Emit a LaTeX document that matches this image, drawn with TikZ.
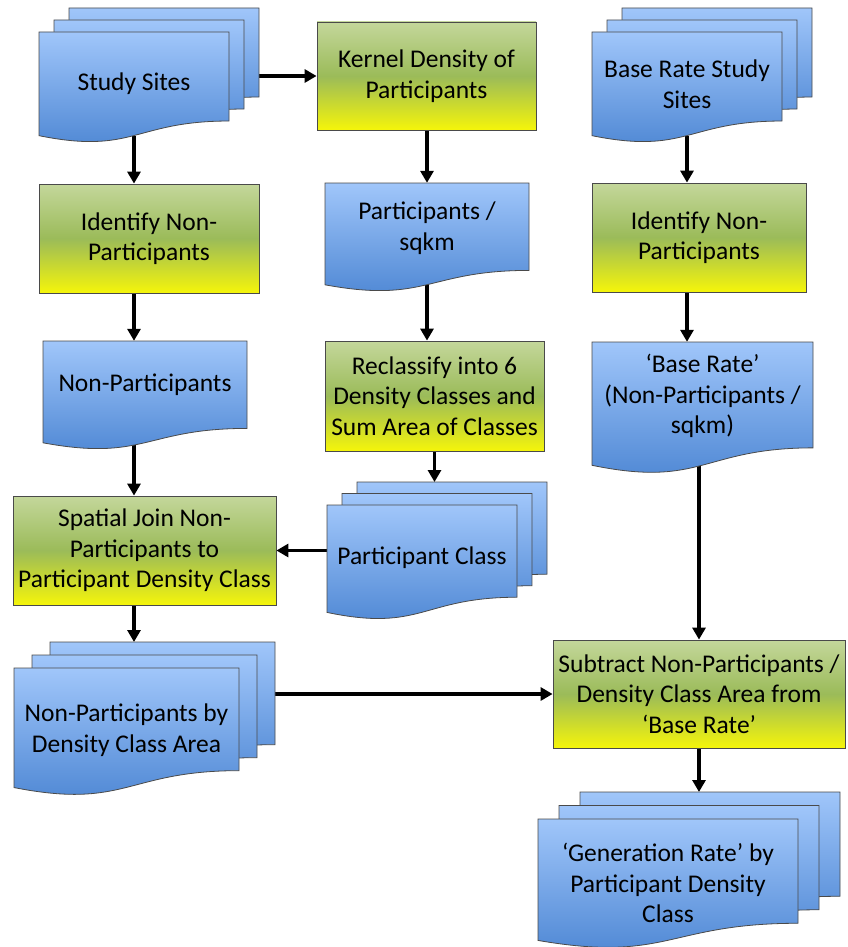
\documentclass[tikz,border=0pt]{standalone}
\usepackage{fontspec}
\setmainfont{Carlito}
\usetikzlibrary{arrows.meta}
\pgfdeclarelayer{bg}
\pgfsetlayers{bg,main}

\definecolor{procTop}{HTML}{C4D79B}
\definecolor{procMid}{HTML}{9BBB59}
\definecolor{procBot}{HTML}{F5F50A}
\definecolor{docTop}{HTML}{A0C6FA}
\definecolor{docBot}{HTML}{4A84D2}
\definecolor{edge}{HTML}{4A4A4A}

\newcommand{\flowfont}{\fontsize{25.5}{30.5}\selectfont}

\tikzset{
  proc/.style={draw=edge, line width=0.8pt, top color=procTop, bottom color=procBot, middle color=procMid, align=center, inner sep=0pt, font=\flowfont},
  docpage/.style={draw=edge, line width=0.8pt, top color=docTop, bottom color=docBot},
  doctxt/.style={align=center, inner sep=0pt, font=\flowfont},
  arr/.style={line width=3.4pt, -{Triangle[width=13pt,length=12pt]}},
}

% one page: left, top, width, height
\newcommand{\docpage}[4]{%
  \pgfmathsetmacro{\dpR}{#1+#3}
  \pgfmathsetmacro{\dpM}{#1+0.5*#3}
  \pgfmathsetmacro{\dpA}{#2+0.802*#4}
  \pgfmathsetmacro{\dpB}{#2+1.107*#4}
  \pgfmathsetmacro{\dpC}{#2+0.934*#4}
  \path[docpage] (#1,#2) -- (\dpR,#2) -- (\dpR,\dpA)
    .. controls (\dpM,\dpA) and (\dpM,\dpB) .. (#1,\dpC) -- cycle;
}

% three pages: name, left, top, width, height of front page, x and y step
\newcommand{\multidoc}[7]{%
  \pgfmathsetmacro{\mdLa}{#2+2*#6}
  \pgfmathsetmacro{\mdTa}{#3-2*#7}
  \pgfmathsetmacro{\mdLb}{#2+#6}
  \pgfmathsetmacro{\mdTb}{#3-#7}
  \docpage{\mdLa}{\mdTa}{#4}{#5}
  \docpage{\mdLb}{\mdTb}{#4}{#5}
  \docpage{#2}{#3}{#4}{#5}
  \node[inner sep=0pt, minimum width=#4, minimum height=0.802*#5, anchor=north west] (#1-back) at (\mdLa,\mdTa) {};
}

\begin{document}
\begin{tikzpicture}[x=1pt, y=-1pt]
\useasboundingbox (0,0) rectangle (848,947);

\multidoc{sites}{39}{32}{190}{111}{15}{12}
\node[doctxt, minimum width=190, minimum height=104] (sites) at (134,84) {Study Sites};
\multidoc{baseSS}{592}{32}{190}{111}{15}{12}
\node[doctxt, minimum width=190, minimum height=104] (baseSS) at (687,84) {Base Rate Study\\Sites};
\docpage{325}{183}{204}{109}
\node[doctxt, minimum width=204, minimum height=90] (psqkm) at (427,228) {Participants /\\sqkm};
\docpage{43}{341}{204}{109}
\node[doctxt, minimum width=204, minimum height=88] (nonpart) at (145,385) {Non-Participants};
\docpage{592}{342}{221}{132}
\node[doctxt, minimum width=221, minimum height=108] (baserate) at (702.5,396) {‘Base Rate’\\(Non-Participants /\\sqkm)};
\multidoc{pclass}{327}{505}{190}{115}{15}{11.5}
\node[doctxt, minimum width=190, minimum height=106] (pclass) at (422,558) {Participant Class};
\multidoc{npdens}{14}{668}{225}{128}{18}{13}
\node[doctxt, minimum width=225, minimum height=124] (npdens) at (126.5,730) {Non-Participants by\\Density Class Area};
\multidoc{gen}{538}{819}{260}{130}{21}{13.5}
\node[doctxt, minimum width=260, minimum height=128] (gen) at (668,883) {‘Generation Rate’ by\\Participant Density\\Class};

\node[proc, minimum width=219, minimum height=108] (kernel) at (426.5,76) {Kernel Density of\\Participants};
\node[proc, minimum width=220, minimum height=109] (identL) at (149,238.5) {Identify Non-\\Participants};
\node[proc, minimum width=214, minimum height=109] (identR) at (699,237.5) {Identify Non-\\Participants};
\node[proc, minimum width=219, minimum height=110] (reclass) at (434.5,396) {Reclassify into 6\\Density Classes and\\Sum Area of Classes};
\node[proc, minimum width=263, minimum height=109] (spatial) at (144.5,550.5) {Spatial Join Non-\\Participants to\\Participant Density Class};
\node[proc, minimum width=292, minimum height=108] (subtract) at (699,694) {Subtract Non-Participants /\\Density Class Area from\\‘Base Rate’};

\begin{pgfonlayer}{bg}
\draw[arr] (sites-back.east |- kernel.west) -- (kernel.west);
\draw[arr] (sites.south) -- (sites.south |- identL.north);
\draw[arr] (identL.south -| sites.south) -- (nonpart.north -| sites.south);
\draw[arr] (nonpart.south -| sites.south) -- (spatial.north -| sites.south);
\draw[arr] (spatial.south -| sites.south) -- (npdens-back.north -| sites.south);
\draw[arr] (kernel.south -| psqkm.north) -- (psqkm.north);
\draw[arr] (psqkm.south) -- (psqkm.south |- reclass.north);
\draw[arr] (reclass.south) -- (reclass.south |- pclass-back.north);
\draw[arr] (pclass.west |- spatial.east) -- (spatial.east);
\draw[arr] (npdens-back.east |- subtract.west) -- (subtract.west);
\draw[arr] (baseSS.south) -- (baseSS.south |- identR.north);
\draw[arr] (identR.south -| baseSS.south) -- (baserate.north -| baseSS.south);
\draw[arr] (baserate.south -| subtract.north) -- (subtract.north);
\draw[arr] (subtract.south) -- (subtract.south |- gen-back.north);
\end{pgfonlayer}
\end{tikzpicture}
\end{document}
